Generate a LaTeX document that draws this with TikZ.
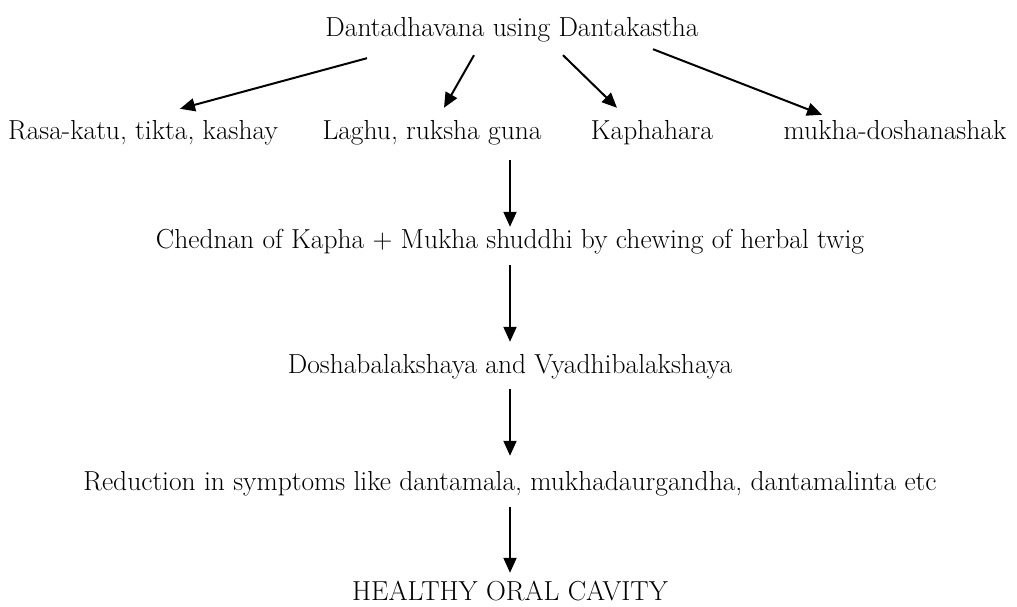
\documentclass[tikz,border=0pt]{standalone}
\usepackage{tikz}
\usetikzlibrary{arrows.meta,calc}

\tikzset{
  lbl/.style={anchor=base, inner sep=0pt, text height=20pt, text depth=6pt,
    font=\fontsize{27.5}{33}\selectfont},
  flow/.style={-{Triangle[length=15pt,width=13pt]}, line width=2pt},
}

\begin{document}
\begin{tikzpicture}[x=1pt,y=1pt]
\useasboundingbox (0,0) rectangle (1017,607);
% top and the four qualities
\node[lbl] (title) at (512,570) {Dantadhavana using Dantakastha};
\node[lbl] (rasa)  at (143,467) {Rasa-katu, tikta, kashay};
\node[lbl] (laghu) at (432,467) {Laghu, ruksha guna};
\node[lbl] (kapha) at (652,467) {Kaphahara};
\node[lbl] (mukha) at (895,467) {mukha-doshanashak};
% chain
\node[lbl] (chednan) at (510,358) {Chednan of Kapha + Mukha shuddhi by chewing of herbal twig};
\node[lbl] (dosha)   at (510,233) {Doshabalakshaya and Vyadhibalakshaya};
\node[lbl] (reduce)  at (510,116) {Reduction in symptoms like dantamala, mukhadaurgandha, dantamalinta etc};
\node[lbl] (healthy) at (510,6)   {HEALTHY ORAL CAVITY};

\draw[flow] ([shift={(-145,-15)}]title.south) -- ([shift={(37,11)}]rasa.north);
\draw[flow] ([shift={(-38,-12)}]title.south) -- ([shift={(12,12)}]laghu.north);
\draw[flow] ([shift={(51,-12)}]title.south) -- ([shift={(-35,12)}]kapha.north);
\draw[flow] ([shift={(141,-6)}]title.south) -- ([shift={(-73,5)}]mukha.north);

\draw[flow, shorten <=14pt, shorten >=2pt] (laghu.south -| chednan.north) -- (chednan.north);
\draw[flow, shorten <=10pt, shorten >=12pt] (chednan.south) -- (dosha.north);
\draw[flow, shorten <=9pt, shorten >=15pt] (dosha.south) -- (reduce.north);
\draw[flow, shorten <=10pt, shorten >=8pt] (reduce.south) -- (healthy.north);
\end{tikzpicture}
\end{document}
